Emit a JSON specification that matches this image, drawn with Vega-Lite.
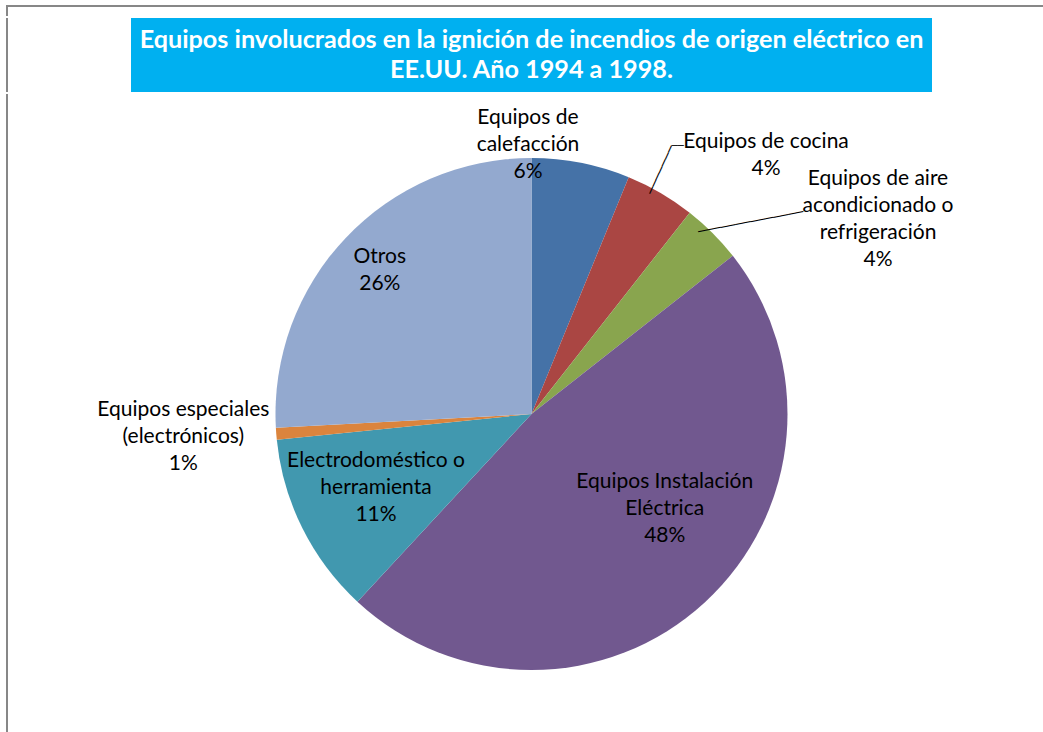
{
  "$schema": "https://vega.github.io/schema/vega-lite/v6.json",
  "autosize": "none",
  "padding": {"left": 7, "top": 6, "right": 1036, "bottom": 726},
  "background": "white",
  "config": {"view": {"stroke": null}},
  "spacing": 0,
  "vconcat": [
    {
      "width": 1049, "height": 10,
      "view": {"stroke": "#878787", "strokeWidth": 2, "strokeDash": [1049, 1059, 10], "fill": null},
      "data": {"values": []},
      "mark": "text"
    },
    {
      "spacing": 0,
      "hconcat": [
        {
          "width": 123, "height": 74,
          "view": {"stroke": "#878787", "strokeWidth": 2, "strokeDash": [0, 320, 74], "fill": null},
          "data": {"values": []},
          "mark": "text"
        },
        {
          "width": 801,
          "height": 74,
          "view": {"fill": "#00B0F0", "stroke": null},
          "data": {"values": [{"titulo": "Equipos involucrados  en la ignición de incendios de origen eléctrico en\nEE.UU. Año 1994 a 1998."}]},
          "mark": {"type": "text", "font": "Lato", "fontWeight": "bold", "fontSize": 25.2, "color": "#ffffff", "lineBreak": "\n", "lineHeight": 29.5, "align": "center", "baseline": "middle", "dy": -14.75},
          "encoding": {"text": {"field": "titulo", "type": "nominal"}}
        }
      ]
    },
    {
      "width": 1049,
      "height": 640,
      "view": {"stroke": "#878787", "strokeWidth": 2, "strokeDash": [0, 2738, 640], "fill": null},
      "data": {"values": [
        {"cat": "Equipos de calefacción", "n": 1, "value": 6.2, "label": "Equipos de\ncalefacción\n6%"},
        {"cat": "Equipos de cocina", "n": 2, "value": 4.4, "label": "Equipos de cocina\n4%"},
        {"cat": "Equipos de aire acondicionado o refrigeración", "n": 3, "value": 3.8, "label": "Equipos de aire\nacondicionado o\nrefrigeración\n4%"},
        {"cat": "Equipos Instalación Eléctrica", "n": 4, "value": 47.5, "label": "Equipos Instalación\nEléctrica\n48%"},
        {"cat": "Electrodoméstico o herramienta", "n": 5, "value": 11.5, "label": "Electrodoméstico o\nherramienta\n11%"},
        {"cat": "Equipos especiales (electrónicos)", "n": 6, "value": 0.75, "label": "Equipos especiales\n(electrónicos)\n1%"},
        {"cat": "Otros", "n": 7, "value": 25.85, "label": "Otros\n26%"}
      ]},
      "encoding": {
        "theta": {"field": "value", "type": "quantitative", "stack": true},
        "order": {"field": "n", "type": "quantitative"},
        "detail": {"field": "cat", "type": "nominal"}
      },
      "layer": [
        {
          "mark": {"type": "arc", "outerRadius": 256, "strokeWidth": 0},
          "encoding": {
            "color": {
              "field": "cat", "type": "nominal", "legend": null,
              "scale": {
                "domain": ["Equipos de calefacción", "Equipos de cocina", "Equipos de aire acondicionado o refrigeración", "Equipos Instalación Eléctrica", "Electrodoméstico o herramienta", "Equipos especiales (electrónicos)", "Otros"],
                "range": ["#4572A7", "#AA4643", "#89A54E", "#71588F", "#4198AF", "#DB843D", "#93A9CF"]
              }
            }
          }
        },
        {
          "mark": {"type": "text", "clip": true, "radius": 270, "dx": -55.8, "dy": -31.6, "font": "Lato", "fontSize": 21, "lineBreak": "\n", "lineHeight": 27, "align": "center", "baseline": "middle", "color": "#000000"},
          "encoding": {"text": {"condition": {"test": "datum.n === 1", "field": "label", "type": "nominal"}, "value": ""}}
        },
        {
          "mark": {"type": "text", "clip": true, "radius": 341, "dx": 62.8, "dy": 22.1, "font": "Lato", "fontSize": 21, "lineBreak": "\n", "lineHeight": 27, "align": "center", "baseline": "middle", "color": "#000000"},
          "encoding": {"text": {"condition": {"test": "datum.n === 2", "field": "label", "type": "nominal"}, "value": ""}}
        },
        {
          "mark": {"type": "text", "clip": true, "radius": 382, "dx": 76.4, "dy": 35.4, "font": "Lato", "fontSize": 21, "lineBreak": "\n", "lineHeight": 27, "align": "center", "baseline": "middle", "color": "#000000"},
          "encoding": {"text": {"condition": {"test": "datum.n === 3", "field": "label", "type": "nominal"}, "value": ""}}
        },
        {
          "mark": {"type": "text", "clip": true, "radius": 160, "dx": 24.8, "dy": -50.1, "font": "Lato", "fontSize": 21, "lineBreak": "\n", "lineHeight": 27, "align": "center", "baseline": "middle", "color": "#000000"},
          "encoding": {"text": {"condition": {"test": "datum.n === 4", "field": "label", "type": "nominal"}, "value": ""}}
        },
        {
          "mark": {"type": "text", "clip": true, "radius": 172, "dx": -1.5, "dy": -29.6, "font": "Lato", "fontSize": 21, "lineBreak": "\n", "lineHeight": 27, "align": "center", "baseline": "middle", "color": "#000000"},
          "encoding": {"text": {"condition": {"test": "datum.n === 5", "field": "label", "type": "nominal"}, "value": ""}}
        },
        {
          "mark": {"type": "text", "clip": true, "radius": 349, "dx": -0.2, "dy": -31.3, "font": "Lato", "fontSize": 21, "lineBreak": "\n", "lineHeight": 27, "align": "center", "baseline": "middle", "color": "#000000"},
          "encoding": {"text": {"condition": {"test": "datum.n === 6", "field": "label", "type": "nominal"}, "value": ""}}
        },
        {
          "mark": {"type": "text", "clip": true, "radius": 209, "dx": 0, "dy": -13.5, "font": "Lato", "fontSize": 21, "lineBreak": "\n", "lineHeight": 27, "align": "center", "baseline": "middle", "color": "#000000"},
          "encoding": {"text": {"condition": {"test": "datum.n === 7", "field": "label", "type": "nominal"}, "value": ""}}
        },
        {
          "mark": {"type": "text", "clip": true, "radius": 276, "angle": 294.46, "dx": 1.24, "dy": -11.17, "font": "DejaVu Sans Mono", "fontSize": 12.5, "align": "center", "baseline": "middle", "color": "#000000"},
          "encoding": {"text": {"condition": {"test": "datum.n === 2", "value": "───────"}, "value": ""}}
        },
        {
          "mark": {"type": "text", "clip": true, "radius": 305.5, "dx": -7.65, "dy": -4.1, "font": "DejaVu Sans Mono", "fontSize": 10, "align": "center", "baseline": "middle", "color": "#000000"},
          "encoding": {"text": {"condition": {"test": "datum.n === 2", "value": "──"}, "value": ""}}
        },
        {
          "mark": {"type": "text", "clip": true, "radius": 291, "angle": 349.22, "dx": 10.72, "dy": 16.06, "font": "DejaVu Sans Mono", "fontSize": 12.7, "align": "center", "baseline": "middle", "color": "#000000"},
          "encoding": {"text": {"condition": {"test": "datum.n === 3", "value": "──────────────"}, "value": ""}}
        }
      ]
    }
  ]
}
